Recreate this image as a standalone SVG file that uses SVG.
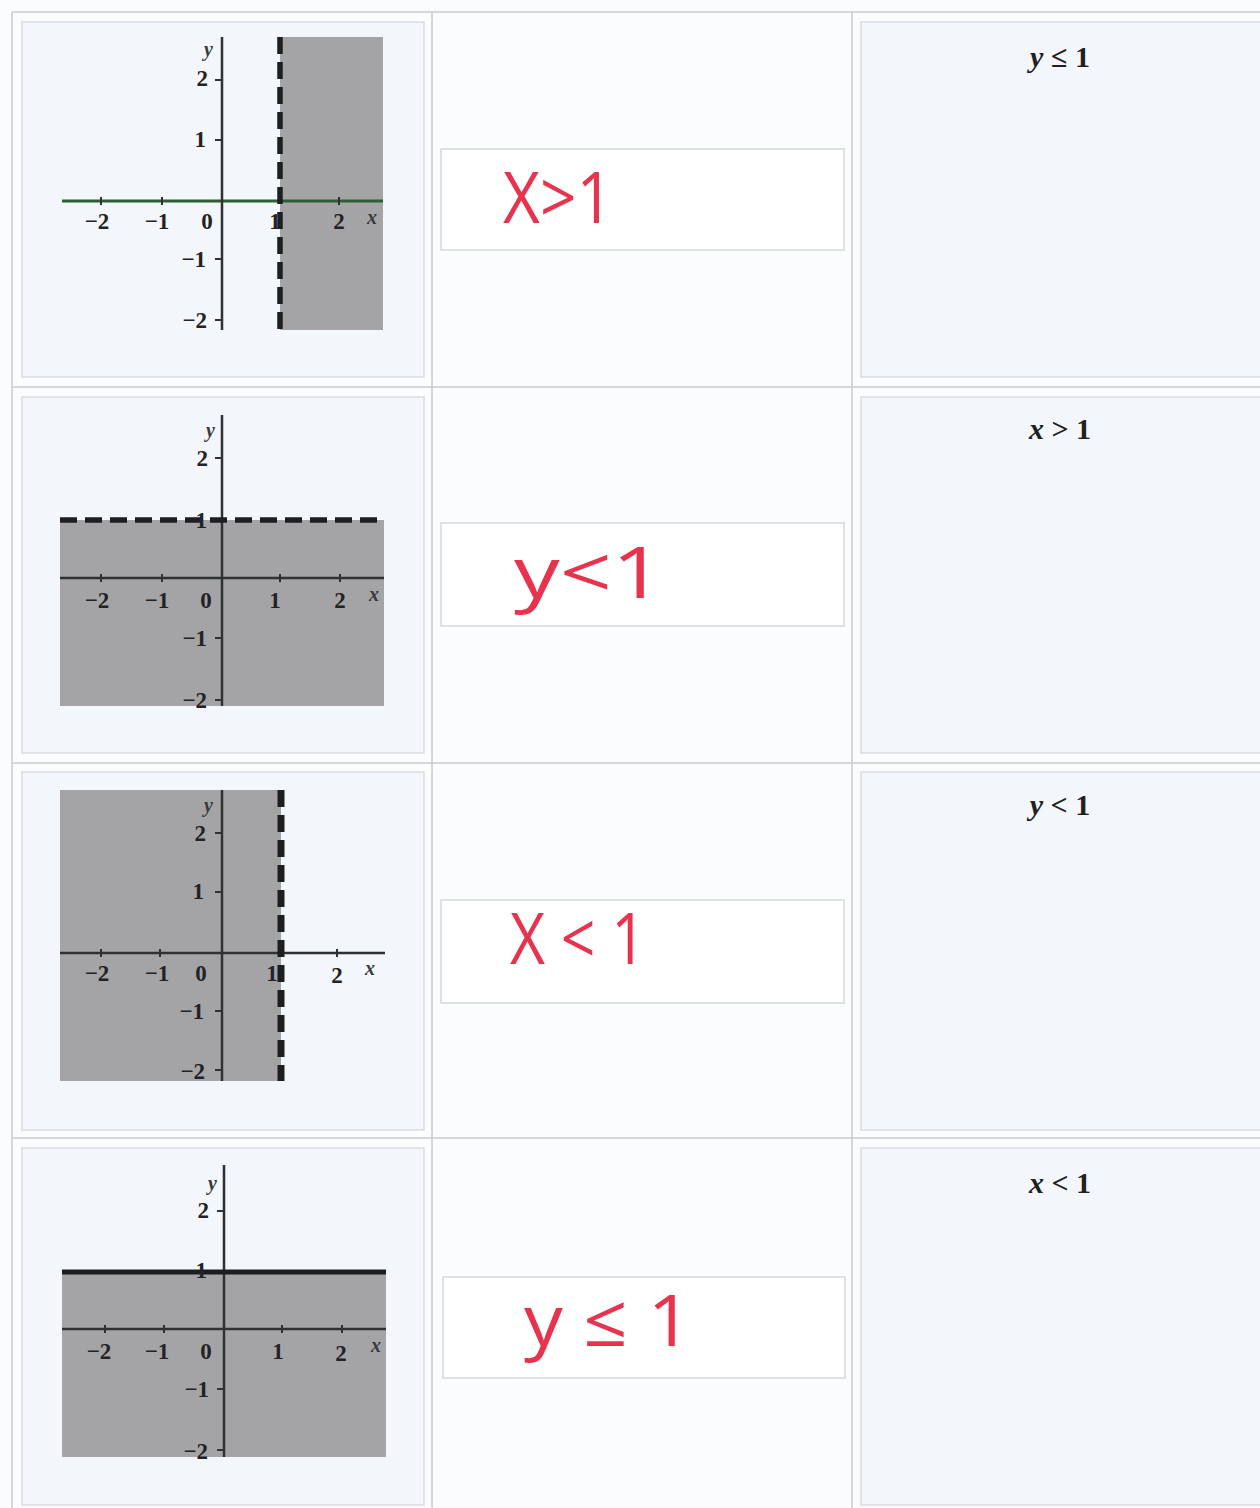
<svg xmlns="http://www.w3.org/2000/svg" width="1260" height="1508" viewBox="0 0 1260 1508">
<style>
.grid{stroke:#c9ccd0;stroke-width:1.5;fill:none}
.panel{fill:#f3f6fa;stroke:#d9dde2;stroke-width:1.5}
.ansbox{fill:#ffffff;stroke:#d6d9dc;stroke-width:1.5}
.shade{fill:#a4a4a7}
.axis{stroke:#2f3133;stroke-width:2.5;fill:none}
.tick{stroke:#2f3133;stroke-width:2;fill:none}
.dash{stroke:#1e1e20;stroke-width:5.5;stroke-dasharray:17 8;fill:none}
.solid{stroke:#1e1e20;stroke-width:5;fill:none}
.tl{font-family:"Liberation Serif",serif;font-weight:bold;font-size:23px;fill:#232325}
.var{font-family:"Liberation Serif",serif;font-style:italic;font-weight:bold;font-size:20px;fill:#3a3a3c}
.lab{font-family:"Liberation Serif",serif;font-weight:bold;font-size:30px;fill:#202022}
.lab tspan.v{font-style:italic}
.hand{font-family:"Open Sans","Liberation Sans",sans-serif;font-weight:400;font-size:72px;fill:#e8334f}
</style>
<rect x="0" y="0" width="1260" height="1508" fill="#fbfcfd"/>
<g id="table">
<path class="grid" d="M12 12H1260M12 387H1260M12 763H1260M12 1138H1260M12 12V1508M432 12V1508M852 12V1508"/>
<rect class="panel" x="22" y="22" width="402" height="355"/>
<rect class="panel" x="22" y="397" width="402" height="356"/>
<rect class="panel" x="22" y="772" width="402" height="358"/>
<rect class="panel" x="22" y="1148" width="402" height="357"/>
<rect class="panel" x="861" y="22" width="405" height="355"/>
<rect class="panel" x="861" y="397" width="405" height="356"/>
<rect class="panel" x="861" y="772" width="405" height="358"/>
<rect class="panel" x="861" y="1148" width="405" height="357"/>
</g>
<g id="graph1">
<rect class="shade" x="280" y="37" width="103" height="293"/>
<line x1="62" y1="201" x2="383" y2="201" stroke="#2e5e34" stroke-width="3"/>
<line class="axis" x1="222" y1="37" x2="222" y2="330"/>
<path class="tick" d="M215 80H222M215 140H222M215 259H222M215 320H222M101 197V205M162 197V205M339 197V205"/>
<line class="dash" x1="280" y1="37" x2="280" y2="330"/>
<text class="var" x="204" y="56">y</text>
<text class="tl" x="208" y="86" text-anchor="end">2</text>
<text class="tl" x="206" y="147" text-anchor="end">1</text>
<text class="tl" x="206" y="267" text-anchor="end">−1</text>
<text class="tl" x="207" y="328" text-anchor="end">−2</text>
<text class="tl" x="97" y="229" text-anchor="middle">−2</text>
<text class="tl" x="157" y="229" text-anchor="middle">−1</text>
<text class="tl" x="207" y="229" text-anchor="middle">0</text>
<text class="tl" x="275" y="229" text-anchor="middle">1</text>
<text class="tl" x="339" y="229" text-anchor="middle">2</text>
<text class="var" x="367" y="224" fill="#8a8a8c">x</text>
</g>
<g id="graph2">
<rect class="shade" x="60" y="520" width="324" height="186"/>
<line class="axis" x1="60" y1="578" x2="384" y2="578"/>
<line class="axis" x1="222" y1="415" x2="222" y2="706"/>
<path class="tick" d="M215 458H222M215 638H222M215 700H222M101 574V582M162 574V582M280 574V582M340 574V582"/>
<line class="dash" x1="60" y1="520" x2="384" y2="520"/>
<text class="var" x="206" y="437">y</text>
<text class="tl" x="208" y="466" text-anchor="end">2</text>
<text class="tl" x="207" y="528" text-anchor="end">1</text>
<text class="tl" x="207" y="646" text-anchor="end">−1</text>
<text class="tl" x="207" y="708" text-anchor="end">−2</text>
<text class="tl" x="97" y="608" text-anchor="middle">−2</text>
<text class="tl" x="157" y="608" text-anchor="middle">−1</text>
<text class="tl" x="206" y="608" text-anchor="middle">0</text>
<text class="tl" x="275" y="608" text-anchor="middle">1</text>
<text class="tl" x="340" y="608" text-anchor="middle">2</text>
<text class="var" x="369" y="601">x</text>
</g>
<g id="graph3">
<rect class="shade" x="60" y="790" width="221" height="291"/>
<line class="axis" x1="60" y1="953" x2="385" y2="953"/>
<line class="axis" x1="222" y1="790" x2="222" y2="1081"/>
<path class="tick" d="M215 833H222M215 892H222M215 1011H222M215 1070H222M101 949V957M160 949V957M337 949V957"/>
<line x1="281" y1="790" x2="281" y2="1081" stroke="#1e1e20" stroke-width="7" stroke-dasharray="17 8"/>
<text class="var" x="204" y="812">y</text>
<text class="tl" x="206" y="841" text-anchor="end">2</text>
<text class="tl" x="204" y="899" text-anchor="end">1</text>
<text class="tl" x="204" y="1019" text-anchor="end">−1</text>
<text class="tl" x="205" y="1079" text-anchor="end">−2</text>
<text class="tl" x="97" y="981" text-anchor="middle">−2</text>
<text class="tl" x="157" y="981" text-anchor="middle">−1</text>
<text class="tl" x="201" y="981" text-anchor="middle">0</text>
<text class="tl" x="272" y="981" text-anchor="middle">1</text>
<text class="tl" x="337" y="983" text-anchor="middle">2</text>
<text class="var" x="365" y="975">x</text>
</g>
<g id="graph4">
<rect class="shade" x="62" y="1272" width="324" height="185"/>
<line class="axis" x1="62" y1="1329" x2="386" y2="1329"/>
<line class="axis" x1="224" y1="1165" x2="224" y2="1457"/>
<path class="tick" d="M217 1211H224M217 1389H224M217 1450H224M105 1325V1333M164 1325V1333M282 1325V1333M342 1325V1333"/>
<line class="solid" x1="62" y1="1272" x2="386" y2="1272"/>
<text class="var" x="208" y="1190">y</text>
<text class="tl" x="209" y="1218" text-anchor="end">2</text>
<text class="tl" x="207" y="1278" text-anchor="end">1</text>
<text class="tl" x="209" y="1397" text-anchor="end">−1</text>
<text class="tl" x="208" y="1459" text-anchor="end">−2</text>
<text class="tl" x="99" y="1359" text-anchor="middle">−2</text>
<text class="tl" x="157" y="1359" text-anchor="middle">−1</text>
<text class="tl" x="206" y="1359" text-anchor="middle">0</text>
<text class="tl" x="278" y="1359" text-anchor="middle">1</text>
<text class="tl" x="341" y="1361" text-anchor="middle">2</text>
<text class="var" x="371" y="1352">x</text>
</g>
<g id="answer1">
<rect class="ansbox" x="441" y="149" width="403" height="101"/>
<text class="hand" x="503" y="223" textLength="110" lengthAdjust="spacingAndGlyphs">X&gt;1</text>
</g>
<g id="answer2">
<rect class="ansbox" x="441" y="523" width="403" height="103"/>
<text class="hand" x="514" y="598" textLength="150" lengthAdjust="spacingAndGlyphs">y&lt;1</text>
</g>
<g id="answer3">
<rect class="ansbox" x="441" y="900" width="403" height="103"/>
<text class="hand" x="510" y="964" textLength="136" lengthAdjust="spacingAndGlyphs">X &lt; 1</text>
</g>
<g id="answer4">
<rect class="ansbox" x="443" y="1277" width="402" height="101"/>
<text class="hand" x="524" y="1346" textLength="168" lengthAdjust="spacingAndGlyphs">y ≤ 1</text>
</g>
<g id="label1"><text class="lab" x="1060" y="67" text-anchor="middle"><tspan class="v">y</tspan> ≤ 1</text></g>
<g id="label2"><text class="lab" x="1060" y="439" text-anchor="middle"><tspan class="v">x</tspan> &gt; 1</text></g>
<g id="label3"><text class="lab" x="1060" y="815" text-anchor="middle"><tspan class="v">y</tspan> &lt; 1</text></g>
<g id="label4"><text class="lab" x="1060" y="1193" text-anchor="middle"><tspan class="v">x</tspan> &lt; 1</text></g>
</svg>
